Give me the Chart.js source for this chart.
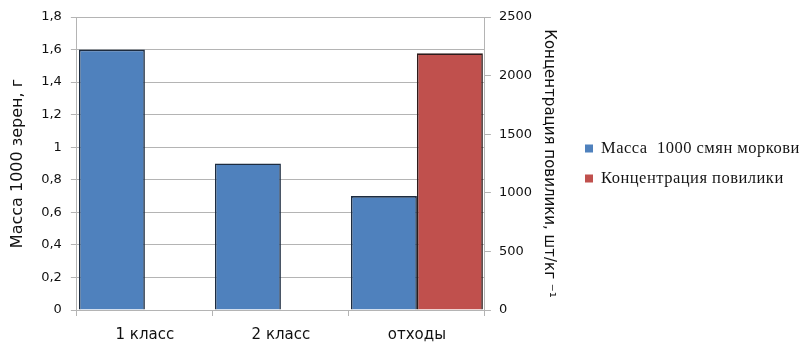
<!DOCTYPE html>
<html>
<head>
<meta charset="utf-8">
<script src="https://cdn.jsdelivr.net/npm/chart.js@4"></script>
<style>
  html, body { margin: 0; padding: 0; background: #fff; }
  #wrap { width: 808px; height: 346px; }
</style>
</head>
<body>
<div id="wrap"><canvas id="chart" width="808" height="346"></canvas></div>
<script>
const categories = ['1 класс', '2 класс', 'отходы'];
const massValues = [1.6, 0.9, 0.7];
const dodderValues = [null, null, 2190];
const leftTicks = ['0', '0,2', '0,4', '0,6', '0,8', '1', '1,2', '1,4', '1,6', '1,8'];
const rightTicks = ['0', '500', '1000', '1500', '2000', '2500'];

const gridGray = '#b4b4b4';
const sans = 'DejaVu Sans';

// legend drawn at the right, Excel style (Chart.js caps side boxes at a small width)
const sideLegend = {
    id: 'sideLegend',
    afterDraw(chart) {
        const c = chart.ctx;
        const x = chart.scales.y2.right + 17;
        const mid = (chart.chartArea.top + chart.chartArea.bottom) / 2;
        const rowGap = 30;
        const sets = chart.data.datasets;
        c.save();
        c.font = '16.5px "Liberation Serif"';
        c.letterSpacing = '0.5px';
        c.textBaseline = 'middle';
        c.textAlign = 'left';
        sets.forEach(function(ds, i) {
            const y = mid - rowGap * (sets.length - 1) / 2 + i * rowGap;
            c.fillStyle = ds.backgroundColor;
            c.fillRect(x, y - 4, 8, 8);
            c.fillStyle = '#151515';
            c.fillText(ds.label, x + 16, y);
        });
        c.restore();
    },
};

const ctx = document.getElementById('chart');
window.myChart = new Chart(ctx, {
    type: 'bar',
    data: {
        labels: categories,
        datasets: [
            {
                label: 'Масса  1000 смян моркови',
                data: massValues,
                backgroundColor: '#4f81bd',
                borderColor: '#1d2c40',
                borderWidth: 1.6,
                yAxisID: 'y',
            },
            {
                label: 'Концентрация повилики',
                data: dodderValues,
                backgroundColor: '#c0504d',
                borderColor: '#2e1b1b',
                borderWidth: 1.6,
                yAxisID: 'y2',
            },
        ],
    },
    options: {
        responsive: false,
        animation: false,
        layout: { padding: { top: 17, right: 240, bottom: -8, left: 8 } },
        categoryPercentage: 0.97,
        barPercentage: 1.0,
        plugins: {
            tooltip: { enabled: false },
            legend: { display: false },
        },
        scales: {
            x: {
                grid: { display: true, drawOnChartArea: false, color: gridGray, tickLength: 6, offset: true },
                border: { color: gridGray },
                ticks: { color: '#111', font: { family: sans, size: 15 }, padding: 10 },
            },
            y: {
                position: 'left',
                min: 0,
                max: 1.8,
                ticks: {
                    stepSize: 0.2,
                    color: '#111',
                    font: { family: sans, size: 13 },
                    padding: 9,
                    callback: (v, i) => leftTicks[i],
                },
                grid: { color: gridGray, tickLength: 6 },
                border: { color: gridGray },
                title: {
                    display: true,
                    text: 'Масса 1000 зерен, г',
                    color: '#111',
                    font: { family: sans, size: 16 },
                    padding: { top: 0, bottom: 5 },
                },
            },
            y2: {
                position: 'right',
                min: 0,
                max: 2500,
                ticks: {
                    stepSize: 500,
                    color: '#111',
                    font: { family: sans, size: 13 },
                    padding: 8,
                    callback: (v, i) => rightTicks[i],
                },
                grid: { drawOnChartArea: false, color: gridGray, tickLength: 6 },
                border: { color: gridGray },
                title: {
                    display: true,
                    text: 'Концентрация повилики, шт/кг ⁻¹',
                    color: '#111',
                    font: { family: sans, size: 15 },
                    padding: { top: 10, bottom: 0 },
                },
            },
        },
    },
    plugins: [sideLegend],
});
</script>
</body>
</html>
